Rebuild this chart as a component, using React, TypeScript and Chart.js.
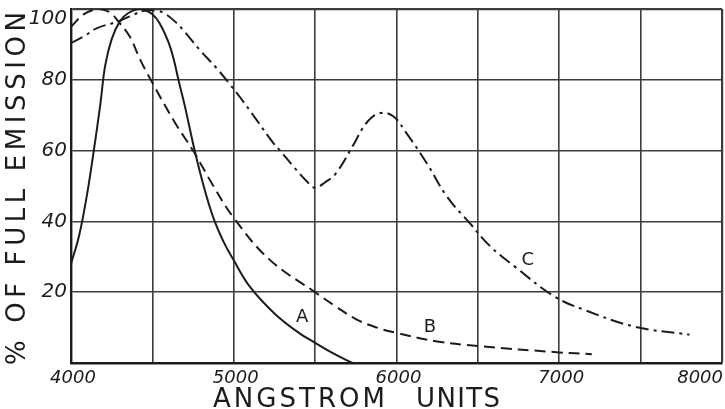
import React, { useEffect, useRef } from "react";
import { Chart, registerables } from "chart.js";

Chart.register(...registerables);

// ---- data ----
const A_X = [4000, 4050, 4100, 4140, 4180, 4210, 4250, 4300, 4350, 4425, 4500, 4550, 4600, 4630, 4660, 4700, 4760, 4815, 4875, 4940, 5000, 5100, 5250, 5400, 5500, 5620, 5730];
const A_Y = [28, 36, 48, 60, 73, 84, 91.5, 96.5, 98.8, 100, 98.5, 95.5, 90.5, 86, 80, 72.5, 60, 50, 41, 34, 29, 21.5, 14, 8.5, 5.7, 2.5, 0];

const B_X = [4000, 4075, 4140, 4180, 4240, 4290, 4360, 4425, 4490, 4640, 4750, 4875, 5000, 5220, 5500, 5620, 5750, 5880, 6000, 6250, 6500, 7000, 7200];
const B_Y = [95, 98.4, 99.8, 100, 99, 96.5, 92.3, 85.7, 80, 67.8, 60, 50, 41, 29.2, 20, 16.2, 12.4, 10, 8.5, 6.1, 4.8, 3, 2.5];

const C_X = [4000, 4080, 4160, 4290, 4385, 4450, 4530, 4580, 4650, 4690, 4790, 4900, 4980, 5040, 5140, 5240, 5285, 5370, 5460, 5500, 5560, 5630, 5730, 5815, 5900, 5980, 6060, 6185, 6310, 6450, 6575, 6725, 6970, 7155, 7460, 7800];
const C_Y = [90.4, 92.3, 94.6, 96.5, 98.4, 99.5, 99.5, 98.6, 96, 94, 88.5, 83, 78.5, 75, 68.7, 62.3, 60, 55.3, 50.8, 49.5, 51, 53.7, 61.2, 67.8, 70.6, 69.7, 65, 56.5, 47, 39.5, 33, 27.3, 18.8, 15, 10.3, 8];

const X_TICK_LABELS = [4000, 5000, 6000, 7000, 8000];
const Y_TICK_LABELS = [20, 40, 60, 80, 100];
const X_TITLE_WORDS = ["ANGSTROM", "UNITS"];
const Y_TITLE = "% OF FULL EMISSION";
const CURVE_NAMES = ["A", "B", "C"];
const CURVE_NAME_X = [5420, 6205, 6806];
const CURVE_NAME_Y = [12.8, 10, 29];

const INK = "#1c1c1c";
const FONT = '"DejaVu Sans", sans-serif';

function toPoints(xs: number[], ys: number[]) {
  return xs.map((x, i) => ({ x, y: ys[i] }));
}

function drawSpaced(ctx: CanvasRenderingContext2D, text: string, x0: number, x1: number, y: number) {
  const chars = [...text];
  const widths = chars.map((ch) => ctx.measureText(ch).width);
  const total = widths.reduce((a, b) => a + b, 0);
  const sp = chars.length > 1 ? (x1 - x0 - total) / (chars.length - 1) : 0;
  let x = x0;
  ctx.textAlign = "left";
  chars.forEach((ch, i) => {
    ctx.fillText(ch, x, y);
    x += widths[i] + sp;
  });
}

const textPlugin = {
  id: "textPlugin",
  afterDraw(chart: any) {
    const ctx: CanvasRenderingContext2D = chart.ctx;
    const xs = chart.scales.x;
    const ys = chart.scales.y;
    const area = chart.chartArea;
    ctx.save();
    ctx.fillStyle = INK;

    // x tick labels
    ctx.font = `italic 18px ${FONT}`;
    ctx.textBaseline = "middle";
    X_TICK_LABELS.forEach((v, i) => {
      const px = xs.getPixelForValue(v);
      if (i === X_TICK_LABELS.length - 1) {
        ctx.textAlign = "right";
        ctx.fillText(String(v), px + 1, 378);
      } else {
        ctx.textAlign = "center";
        ctx.fillText(String(v), px + 2, 378);
      }
    });

    // y tick labels
    ctx.font = `italic 20px ${FONT}`;
    ctx.textAlign = "right";
    Y_TICK_LABELS.forEach((v) => {
      const py = Math.max(ys.getPixelForValue(v), area.top + 10);
      ctx.fillText(String(v), area.left - 4, py);
    });

    // x title
    ctx.font = `26px ${FONT}`;
    ctx.textBaseline = "alphabetic";
    drawSpaced(ctx, X_TITLE_WORDS[0], 213, 385, 407);
    drawSpaced(ctx, X_TITLE_WORDS[1], 416, 500, 407);

    // y title
    ctx.save();
    ctx.translate(18, 365);
    ctx.rotate(-Math.PI / 2);
    ctx.textBaseline = "middle";
    drawSpaced(ctx, Y_TITLE, 0, 353, 0);
    ctx.restore();

    // curve names
    ctx.font = `18px ${FONT}`;
    ctx.textAlign = "center";
    ctx.textBaseline = "middle";
    CURVE_NAMES.forEach((n, i) => {
      ctx.fillText(n, xs.getPixelForValue(CURVE_NAME_X[i]), ys.getPixelForValue(CURVE_NAME_Y[i]));
    });

    ctx.restore();
  },
};

export default function App() {
  const ref = useRef<HTMLCanvasElement | null>(null);

  useEffect(() => {
    document.body.style.margin = "0";
    const canvas = ref.current;
    if (!canvas) return;
    const lineCommon = {
      borderColor: INK,
      borderWidth: 2,
      pointRadius: 0,
      fill: false,
      tension: 0.4,
    };
    const chart = new Chart(canvas, {
      type: "line",
      data: {
        datasets: [
          { label: "A", data: toPoints(A_X, A_Y), ...lineCommon },
          { label: "B", data: toPoints(B_X, B_Y), ...lineCommon, borderDash: [11, 6] },
          { label: "C", data: toPoints(C_X, C_Y), ...lineCommon, borderDash: [13, 5, 3, 5] },
        ],
      },
      options: {
        animation: false,
        responsive: false,
        devicePixelRatio: 1,
        layout: { padding: { top: 9, right: 3, left: 0, bottom: 0 } },
        plugins: { legend: { display: false }, tooltip: { enabled: false }, title: { display: false } },
        scales: {
          x: {
            type: "linear",
            min: 4000,
            max: 8000,
            ticks: { stepSize: 500, display: false },
            grid: {
              color: "#3c3c3c",
              lineWidth: (c: any) => (c.tick && c.tick.value === 8000 ? 2.2 : 1.6),
              drawTicks: false,
            },
            border: { display: true, color: INK, width: 2.4 },
            afterFit: (s: any) => {
              s.height = 46;
            },
          },
          y: {
            type: "linear",
            min: 0,
            max: 100,
            ticks: { stepSize: 20, display: false },
            grid: {
              color: "#3c3c3c",
              lineWidth: (c: any) => (c.tick && c.tick.value === 100 ? 2.2 : 1.6),
              drawTicks: false,
            },
            border: { display: true, color: INK, width: 2.4 },
            afterFit: (s: any) => {
              s.width = 71;
            },
          },
        },
      },
      plugins: [textPlugin],
    });
    return () => chart.destroy();
  }, []);

  return (
    <div style={{ width: 725, height: 409, background: "#fff" }}>
      <canvas ref={ref} width={725} height={409} />
    </div>
  );
}
